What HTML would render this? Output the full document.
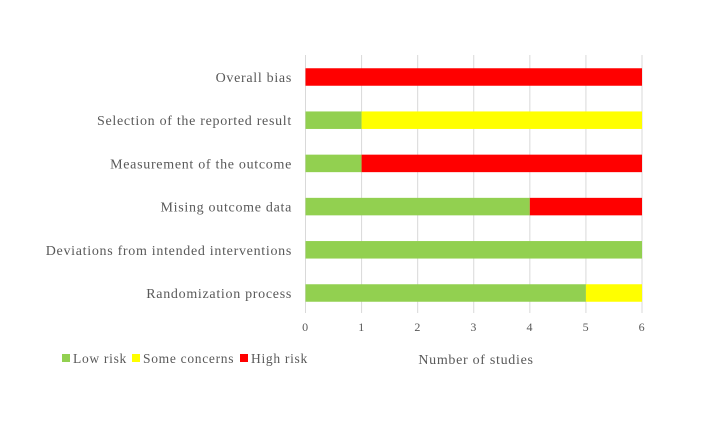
<!DOCTYPE html>
<html><head><meta charset="utf-8"><style>
body{margin:0;background:#fff;width:713px;height:418px;overflow:hidden}
svg text{font-family:"Liberation Serif",serif;fill:#595959;letter-spacing:0.7px}
</style></head><body>
<svg id="chart" width="713" height="418" xmlns="http://www.w3.org/2000/svg"></svg>
<script>
const categories=["Overall bias","Selection of the reported result","Measurement of the outcome","Mising outcome data","Deviations from intended interventions","Randomization process"];
const lowRisk=[0,1,1,4,6,5];
const someConcerns=[0,5,0,0,0,1];
const highRisk=[6,0,5,2,0,0];
const ticks=[0,1,2,3,4,5,6];
const seriesNames=["Low risk","Some concerns","High risk"];
const colors=["#92d050","#ffff00","#ff0000"];
const svg=document.getElementById('chart');
const NS="http://www.w3.org/2000/svg";
const x=v=>305.5+v*(642-305.5)/6;
const yc=i=>77+i*43.2;
function mk(t,a){const e=document.createElementNS(NS,t);for(const k in a)e.setAttribute(k,a[k]);svg.appendChild(e);return e;}
ticks.forEach(t=>{
 const l=mk('line',{x1:x(t),x2:x(t),y1:55,y2:313,stroke:'#d9d9d9','stroke-width':1});
 
 
 const tx=mk('text',{x:x(t),y:331,'text-anchor':'middle','font-size':12});
 tx.textContent=t;
 
 
});
const series=[lowRisk,someConcerns,highRisk];
categories.forEach((c,i)=>{
 const lb=mk('text',{x:292,y:yc(i)+5,'text-anchor':'end','font-size':14});
 lb.textContent=c;
 
 
 let acc=0;
 series.forEach((s,j)=>{
  if(s[i]>0){
   const r=mk('rect',{x:x(acc),y:yc(i)-8.75,width:x(acc+s[i])-x(acc),height:17.5,fill:colors[j]});
   
   
  }
  acc+=s[i];
 });
});
const lx=[62,132,240];
seriesNames.forEach((n,j)=>{
 const r=mk('rect',{x:lx[j],y:354,width:8,height:8,fill:colors[j]});
 
 
 const t=mk('text',{x:lx[j]+11,y:363,'font-size':13.5});
 t.textContent=n;
 
 
});
const at=mk('text',{x:476,y:364,'text-anchor':'middle','font-size':14});
at.textContent="Number of studies";


</script>
</body></html>
